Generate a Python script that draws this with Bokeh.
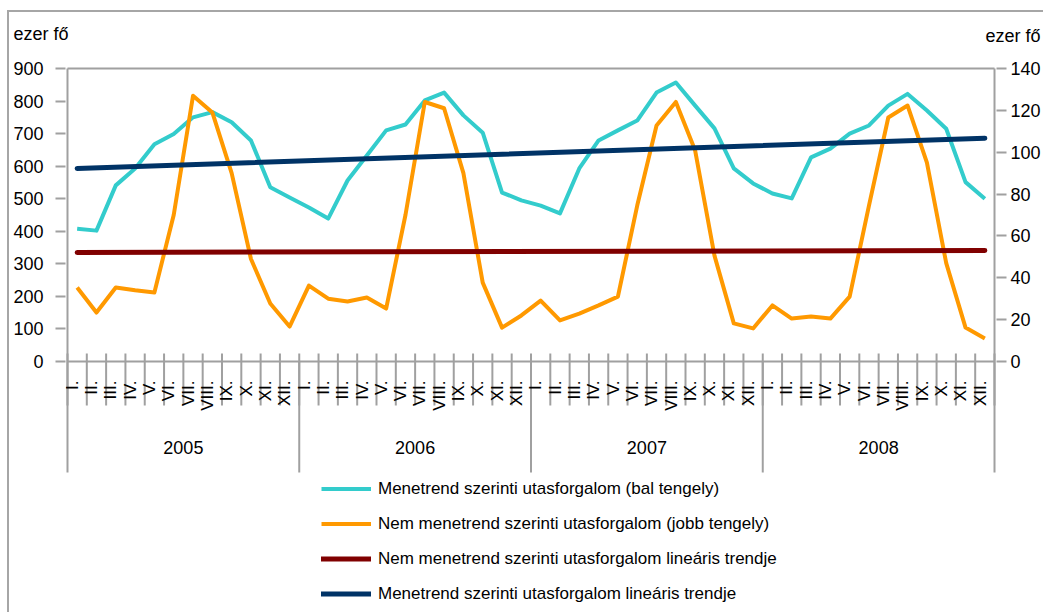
import numpy as np
from bokeh.plotting import figure
from bokeh.layouts import column
from bokeh.models import (Range1d, LinearAxis, FixedTicker, Legend, LegendItem,
                          Title, ColumnDataSource)
from bokeh.embed import file_html
from bokeh.resources import INLINE

# ---------------- data ----------------
years = ["2005", "2006", "2007", "2008"]
months = ["I.", "II.", "III.", "IV.", "V.", "VI.", "VII.", "VIII.", "IX.", "X.", "XI.", "XII."]

# Menetrend szerinti utasforgalom (bal tengely), ezer fő
scheduled = [408, 402, 541, 593, 667, 699, 750, 766, 735, 679, 535, 504,
             473, 439, 556, 633, 710, 728, 802, 826, 756, 703, 519, 495,
             479, 455, 593, 679, 710, 740, 826, 857, 786, 716, 593, 547,
             516, 501, 627, 654, 700, 725, 786, 822, 771, 715, 551, 500]

# Nem menetrend szerinti utasforgalom (jobb tengely), ezer fő
nonscheduled = [35.4, 23.4, 35.4, 34.0, 33.0, 70.0, 127.0, 119.0, 90.0, 49.0, 27.7, 16.7,
                36.3, 30.0, 28.7, 30.6, 25.3, 70.0, 124.0, 121.0, 90.0, 37.7, 16.2, 22.0,
                29.1, 19.6, 22.9, 26.8, 31.0, 74.5, 112.8, 124.0, 100.8, 50.6, 18.2, 15.8,
                26.8, 20.5, 21.5, 20.5, 31.0, 74.5, 116.6, 122.3, 95.0, 47.0, 16.2, 11.0]

# linear trend lines: value at first and last month
sched_trend_ends = [593, 686]
nonsched_trend_ends = [52.1, 53.0]

left_ticks = [0, 100, 200, 300, 400, 500, 600, 700, 800, 900]
right_ticks = [0, 20, 40, 60, 80, 100, 120, 140]
unit_labels = ["ezer fő", "ezer fő"]   # above the left and the right value axis
legend_labels = [
    "Menetrend szerinti utasforgalom (bal tengely)",
    "Nem menetrend szerinti utasforgalom (jobb tengely)",
    "Nem menetrend szerinti utasforgalom lineáris trendje",
    "Menetrend szerinti utasforgalom lineáris trendje",
]

# ---------------- style / layout ----------------
FONT = "Liberation Sans"
GRAY = "#a0a0a0"
BORDER = "#a6a6a6"
C_CYAN, C_ORANGE, C_MAROON, C_NAVY = "#33cccc", "#ff9900", "#800000", "#003366"

W, H = 1043, 612
STRIP_H = 56              # top strip holding the unit labels
MH = H - STRIP_H          # main figure height
# page-pixel layout targets
X0, X1 = 67, 997          # first / last category boundary
Y_TOP, Y_ZERO = 68, 361   # top tick and zero
PADPX = 2
UNIT_X = [13, 985]
UNIT_Y = 34

FL = X0 - PADPX
FR = X1 + PADPX
FT = Y_TOP - PADPX - STRIP_H

# ---------- strip with the unit labels (titles on both sides of a thin frame) ----------
top = figure(width=W, height=STRIP_H, x_range=Range1d(0, 1), y_range=Range1d(0, 1),
             output_backend="svg", toolbar_location=None, title=None,
             x_axis_location=None, y_axis_location=None,
             min_border_left=FL, min_border_right=W - FR,
             min_border_top=UNIT_Y - 1, min_border_bottom=STRIP_H - UNIT_Y - 1,
             border_fill_color=None, background_fill_color=None,
             outline_line_color=None)
top.grid.visible = False
top.styles = {"box-shadow": f"inset 7px 10px 0 0 white, inset 9px 12px 0 0 {BORDER}"}
top.add_layout(Title(text=unit_labels[0], align="left", offset=UNIT_X[0] - FL,
                     standoff=-20, vertical_align="bottom", text_font=FONT,
                     text_font_size="18px", text_font_style="normal",
                     text_color="black"), "above")
top.add_layout(Title(text=unit_labels[1], align="left", offset=UNIT_X[1] - FL,
                     standoff=-20, vertical_align="top", text_font=FONT,
                     text_font_size="18px", text_font_style="normal",
                     text_color="black"), "below")

# ---------- main chart ----------
n = len(years) * len(months)
x_c = np.arange(n) + 0.5
xpx = (X1 - X0) / n
lpx = (Y_ZERO - Y_TOP) / left_ticks[-1]
rpx = (Y_ZERO - Y_TOP) / right_ticks[-1]


def dy(px):
    return px / lpx


p = figure(width=W, height=MH,
           x_range=Range1d(-PADPX / xpx, n + PADPX / xpx),
           y_range=Range1d(-(H - Y_ZERO) / lpx, left_ticks[-1] + PADPX / lpx),
           output_backend="svg", toolbar_location=None, title=None,
           x_axis_location=None,
           min_border_left=FL, min_border_right=W - FR,
           min_border_top=FT, min_border_bottom=0,
           border_fill_color=None, background_fill_color=None,
           outline_line_color=None)
p.styles = {"box-shadow": f"inset 7px 0 0 0 white, inset 9px 0 0 0 {BORDER}"}
p.grid.visible = False

p.extra_y_ranges = {"right": Range1d(-(H - Y_ZERO) / rpx, right_ticks[-1] + PADPX / rpx)}


def style_axis(ax, standoff):
    ax.axis_line_color = None
    ax.major_tick_line_color = GRAY
    ax.major_tick_line_width = 2
    ax.major_tick_in = 0
    ax.major_tick_out = 10
    ax.minor_tick_line_color = None
    ax.major_label_text_font = FONT
    ax.major_label_text_font_size = "18px"
    ax.major_label_text_color = "black"
    ax.major_label_text_baseline = "alphabetic"
    ax.major_label_standoff = standoff


lax = p.yaxis[0]
lax.ticker = FixedTicker(ticks=left_ticks)
style_axis(lax, 12)

rax = LinearAxis(y_range_name="right", ticker=FixedTicker(ticks=right_ticks))
style_axis(rax, 4)
p.add_layout(rax, "right")

# ---------- category axis drawn in the frame ----------
p.segment(x0=[0, 0], x1=[n, n], y0=[left_ticks[-1], 0], y1=[left_ticks[-1], 0],
          line_color=GRAY, line_width=2)
mb = np.arange(n + 1)
p.segment(x0=mb, x1=mb, y0=dy(8), y1=-dy(44), line_color=GRAY, line_width=2)
yb = np.arange(len(years) + 1) * len(months)
ytop = [left_ticks[-1] if (b == 0 or b == n) else 0 for b in yb]
p.segment(x0=yb, x1=yb, y0=ytop, y1=-dy(111), line_color=GRAY, line_width=2)

p.text(x=np.arange(n) + 0.25, y=-dy(19), text=months * len(years), angle=np.pi / 2,
       text_align="right", text_baseline="middle", text_font={"value": FONT},
       text_font_size="17px", text_color="black")
p.text(x=np.arange(len(years)) * len(months) + len(months) / 2, y=-dy(86), text=years,
       text_align="center", text_baseline="middle", text_font={"value": FONT},
       text_font_size="18px", text_color="black")

# ---------- series ----------
src = ColumnDataSource(dict(x=x_c, sched=scheduled, nonsched=nonscheduled))
r1 = p.line("x", "sched", source=src, line_color=C_CYAN, line_width=4, line_join="round")
r2 = p.line("x", "nonsched", source=src, y_range_name="right", line_color=C_ORANGE,
            line_width=4, line_join="round")
r3 = p.line([x_c[0], x_c[-1]], nonsched_trend_ends, y_range_name="right",
            line_color=C_MAROON, line_width=5, line_cap="round")
r4 = p.line([x_c[0], x_c[-1]], sched_trend_ends, line_color=C_NAVY,
            line_width=5, line_cap="round")

legend = Legend(items=[LegendItem(label=l, renderers=[r]) for l, r in
                       zip(legend_labels, [r1, r2, r3, r4])],
                location=(321 - FL, 1), orientation="vertical",
                padding=0, margin=0, spacing=0, border_line_alpha=0,
                background_fill_alpha=0, glyph_width=50, glyph_height=35,
                label_height=35, label_standoff=7,
                label_text_font=FONT, label_text_font_size="17px",
                label_text_color="black")
p.add_layout(legend)

layout = column(top, p, spacing=0)
open("out.html", "w").write(file_html(layout, INLINE))
